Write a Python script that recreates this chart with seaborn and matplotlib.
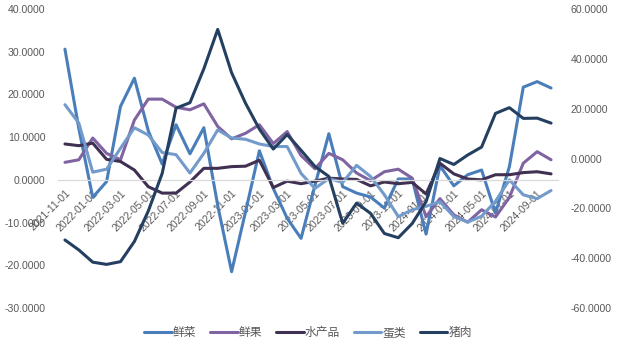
import numpy as np
import pandas as pd
import matplotlib
matplotlib.use("Agg")
import matplotlib.pyplot as plt
from matplotlib.ticker import FuncFormatter, FixedLocator, FixedFormatter
from matplotlib.lines import Line2D
import seaborn as sns

# ---------------- data ----------------
dates = pd.date_range("2021-11-01", periods=36, freq="MS").strftime("%Y-%m-%d").tolist()

veg = [30.6, 12.0, -4.1, -0.4, 17.2, 23.8, 11.5, 3.7, 12.9, 6.1, 12.2, -6.0,
       -21.5, -7.5, 6.8, -2.0, -9.0, -13.7, -1.3, 10.8, -1.6, -3.1, -4.0, -6.6,
       0.2, 0.2, -12.7, 3.3, -1.4, 1.2, 2.3, -7.8, 3.1, 21.7, 23.0, 21.5]
fruit = [4.1, 4.7, 9.8, 6.2, 4.7, 14.0, 18.9, 18.9, 17.0, 16.4, 17.8, 12.5,
         9.6, 10.9, 12.9, 8.5, 11.3, 5.7, 2.6, 6.2, 4.7, 1.6, -0.2, 1.9,
         2.5, 0.4, -8.6, -4.4, -8.2, -9.9, -7.0, -8.7, -4.1, 3.9, 6.6, 4.7]
aquatic = [8.4, 8.0, 8.6, 4.8, 4.3, 2.3, -1.6, -3.1, -3.1, -0.5, 2.7, 2.7,
           3.1, 3.2, 4.6, -1.8, -0.3, -0.9, -0.3, 0.4, 0.2, 0.1, -1.4, -0.5,
           -0.9, -0.6, -3.3, 3.9, 1.4, 0.2, 0.0, 1.2, 1.2, 1.7, 1.9, 1.4]
eggs = [17.6, 13.3, 1.8, 2.5, 7.4, 12.2, 10.5, 6.4, 5.9, 1.6, 6.2, 11.7,
        9.8, 9.5, 8.4, 7.8, 7.8, 1.5, -2.0, 0.3, -0.6, 3.4, 0.8, -3.5,
        -8.6, -7.0, -6.2, -5.1, -8.6, -9.9, -8.5, -5.0, 0.0, -3.5, -4.4, -2.5]
pork = [-32.7, -36.7, -41.6, -42.5, -41.4, -33.3, -21.1, -6.0, 20.2, 22.4, 36.0, 51.8,
        34.4, 22.2, 11.8, 3.8, 9.6, 3.3, -3.2, -7.2, -26.0, -17.9, -22.0, -30.1,
        -31.8, -26.1, -17.3, 0.0, -2.4, 1.4, 4.6, 18.1, 20.4, 16.1, 16.2, 14.2]

left_names = ["鲜菜", "鲜果", "水产品", "蛋类"]
right_name = "猪肉"
colors = {"鲜菜": "#4A7EBB", "鲜果": "#8064A2", "水产品": "#403152",
          "蛋类": "#729ACB", "猪肉": "#243F60"}

# ---------------- frames ----------------
idx = np.arange(len(dates))
wide = pd.DataFrame({"idx": idx, "鲜菜": veg, "鲜果": fruit, "水产品": aquatic, "蛋类": eggs})
long_left = wide.melt(id_vars="idx", var_name="series", value_name="value")
right_df = pd.DataFrame({"idx": idx, "value": pork})

# ---------------- figure ----------------
sns.set_theme(style="white")
plt.rcParams["font.family"] = ["Liberation Sans", "Noto Sans CJK SC", "DejaVu Sans"]

W, H = 619, 347
fig = plt.figure(figsize=(W / 100, H / 100), dpi=100)
ax = fig.add_axes([58 / W, 1 - 308 / H, 500 / W, 299 / H])
ax2 = ax.twinx()

lw = 2.2
sns.lineplot(data=long_left, x="idx", y="value", hue="series", hue_order=left_names,
             palette=colors, linewidth=lw, ax=ax, legend=False)
sns.lineplot(data=right_df, x="idx", y="value", color=colors[right_name],
             linewidth=lw, ax=ax2, legend=False)

fmt = FuncFormatter(lambda v, p: f"{v:.4f}")
ax.set_ylim(-30, 40)
ax.set_yticks(np.arange(-30, 41, 10))
ax.yaxis.set_major_formatter(fmt)
ax2.set_ylim(-60, 60)
ax2.set_yticks(np.arange(-60, 61, 20))
ax2.yaxis.set_major_formatter(fmt)

ax.set_xlim(-0.5, len(dates) - 0.5)
ax.set_xlabel("")
ax.set_ylabel("")
ax2.set_ylabel("")

txt = "#595959"
for a in (ax, ax2):
    for s in a.spines.values():
        s.set_visible(False)
ax.spines["bottom"].set_visible(True)
ax.spines["bottom"].set_position(("data", 0))
ax.spines["bottom"].set_color("#D9D9D9")
ax.spines["bottom"].set_linewidth(0.9)

ax.tick_params(axis="x", which="major", length=0, pad=6, labelsize=7.6,
               labelcolor=txt, labelrotation=45)
ax.tick_params(axis="x", which="minor", length=4, width=0.8, color="#D9D9D9", direction="out")
ax.tick_params(axis="y", length=0, pad=9, labelsize=7.6, labelcolor=txt)
ax2.tick_params(axis="y", length=0, pad=9, labelsize=7.6, labelcolor=txt)
ax.grid(False)
ax2.grid(False)

ax.xaxis.set_major_locator(FixedLocator(idx[::2]))
ax.xaxis.set_major_formatter(FixedFormatter(dates[::2]))
ax.xaxis.set_minor_locator(FixedLocator(np.arange(-0.5, len(dates), 2)))

handles = [Line2D([], [], color=colors[n], linewidth=lw) for n in left_names + [right_name]]
fig.legend(handles, left_names + [right_name], loc="center", bbox_to_anchor=(0.498, 0.04),
           ncol=5, frameon=False, handlelength=2.3, handletextpad=0.1,
           columnspacing=1.2, fontsize=8.5, labelcolor=txt)

fig.canvas.draw()
for lab in ax.get_xticklabels():
    lab.set_rotation(45)
    lab.set_ha("right")
    lab.set_rotation_mode("anchor")

fig.savefig("out.png", dpi=100)
